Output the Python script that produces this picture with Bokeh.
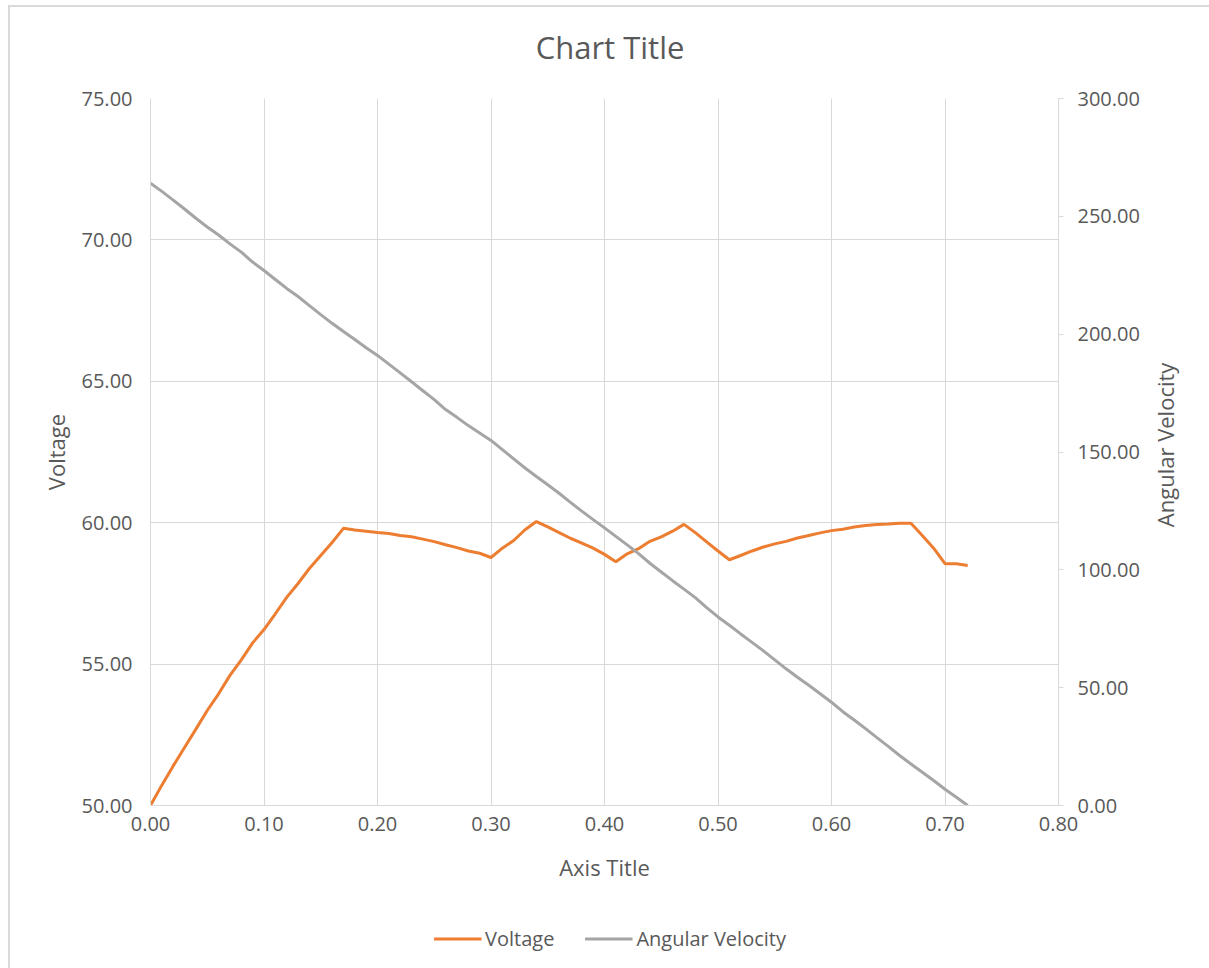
import math
from bokeh.plotting import figure
from bokeh.layouts import column, row
from bokeh.models import (Range1d, LinearAxis, FixedTicker, NumeralTickFormatter,
                          Legend, LegendItem, Label)
from bokeh.embed import file_html
from bokeh.resources import INLINE

# Sample positions (x axis) and the two measured series
x_vals = [round(i * 0.01, 2) for i in range(73)]

voltage = [
    50.00, 50.72, 51.40, 52.05, 52.70, 53.36, 53.95, 54.60, 55.15, 55.75,
    56.22, 56.78, 57.36, 57.85, 58.38, 58.84, 59.30, 59.80, 59.74, 59.70,
    59.65, 59.62, 59.55, 59.50, 59.42, 59.33, 59.22, 59.12, 59.00, 58.92,
    58.77, 59.10, 59.37, 59.75, 60.04, 59.85, 59.65, 59.45, 59.28, 59.10,
    58.88, 58.62, 58.90, 59.08, 59.34, 59.50, 59.70, 59.94, 59.65, 59.32,
    59.00, 58.69, 58.84, 59.00, 59.14, 59.25, 59.34, 59.46, 59.55, 59.64,
    59.72, 59.77, 59.85, 59.90, 59.94, 59.95, 59.98, 59.98, 59.55, 59.10,
    58.55, 58.55, 58.49,
]

angular_velocity = [
    264.0, 260.6, 256.9, 253.1, 249.2, 245.5, 242.1, 238.3, 234.8, 230.6,
    227.0, 223.2, 219.4, 216.0, 212.1, 208.3, 204.6, 201.1, 197.7, 194.2,
    191.0, 187.3, 183.6, 179.8, 176.0, 172.2, 168.0, 164.7, 161.2, 158.1,
    154.9, 151.0, 147.1, 143.2, 139.6, 136.1, 132.5, 128.6, 124.9, 121.3,
    117.8, 114.2, 110.6, 106.9, 102.8, 99.1, 95.4, 91.8, 88.2, 84.0,
    80.0, 76.5, 72.8, 69.2, 65.6, 61.8, 58.0, 54.4, 51.0, 47.4,
    43.8, 39.8, 36.3, 32.6, 28.8, 25.1, 21.2, 17.6, 14.1, 10.6,
    6.9, 3.5, 0.0,
]

x_ticks = [0.0, 0.1, 0.2, 0.3, 0.4, 0.5, 0.6, 0.7, 0.8]
voltage_ticks = [50, 55, 60, 65, 70, 75]
velocity_ticks = [0, 50, 100, 150, 200, 250, 300]

TEXT = "#595959"
GRID = "#d9d9d9"
FONT = "Open Sans"
ORANGE = "#ED7D31"
GREY = "#A5A5A5"
WIDTH = 1199
MAIN_W = 140 + 908 + 95
MAIN_H = 15 + 707 + 103


def blank_strip(width, height, y_range=(0, 1)):
    """A bare figure (no axes, no grid) used for the title, side label and legend."""
    f = figure(width=width, height=height, x_range=Range1d(0, 1), y_range=Range1d(*y_range),
               x_axis_type=None, y_axis_type=None, min_border=0,
               output_backend="svg", toolbar_location=None)
    f.outline_line_color = None
    f.grid.visible = False
    return f


# Title row
header = blank_strip(WIDTH, 76)
header.add_layout(Label(x=0.5, y=0.474, text="Chart Title", text_align="center",
                        text_baseline="middle", text_font=FONT, text_font_size="31px",
                        text_color=TEXT))

# Main chart
p = figure(
    frame_width=908, frame_height=707,
    x_range=Range1d(0, 0.8), y_range=Range1d(50, 75),
    output_backend="svg", toolbar_location=None,
    min_border_left=140, min_border_right=95,
    min_border_top=15, min_border_bottom=103,
)
p.outline_line_color = None
p.extra_y_ranges = {"av": Range1d(0, 300)}

xa = p.xaxis[0]
xa.ticker = FixedTicker(ticks=x_ticks)
xa.formatter = NumeralTickFormatter(format="0.00")
xa.axis_label = "Axis Title"

ya = p.yaxis[0]
ya.ticker = FixedTicker(ticks=voltage_ticks)
ya.formatter = NumeralTickFormatter(format="0.00")
ya.axis_label = "Voltage"

ra = LinearAxis(y_range_name="av",
                ticker=FixedTicker(ticks=velocity_ticks),
                formatter=NumeralTickFormatter(format="0.00"))
p.add_layout(ra, "right")

for ax in (xa, ya, ra):
    ax.axis_line_color = GRID
    ax.major_tick_line_color = None
    ax.minor_tick_line_color = None
    ax.major_label_text_font = FONT
    ax.major_label_text_font_size = "20px"
    ax.major_label_text_color = TEXT
    ax.axis_label_text_font = FONT
    ax.axis_label_text_font_size = "22px"
    ax.axis_label_text_font_style = "normal"
    ax.axis_label_text_color = TEXT

ra.major_tick_line_color = GRID
ra.major_tick_in = 0
ra.major_tick_out = 5
ra.major_label_standoff = 14
ya.major_label_standoff = 12
xa.major_label_standoff = 5
ya.axis_label_standoff = 8
xa.axis_label_standoff = 18

p.xgrid.ticker = FixedTicker(ticks=x_ticks)
p.ygrid.ticker = FixedTicker(ticks=voltage_ticks)
p.xgrid.grid_line_color = GRID
p.ygrid.grid_line_color = GRID

p.line(x_vals, voltage, line_color=ORANGE, line_width=3)
p.line(x_vals, angular_velocity, line_color=GREY, line_width=3, y_range_name="av")

# Secondary axis title, reading bottom-to-top beside the right axis
side = blank_strip(WIDTH - MAIN_W, MAIN_H)
side.add_layout(Label(x=0.197, y=0.510, text="Angular Velocity", angle=math.pi / 2,
                      text_align="center", text_baseline="middle", text_font=FONT,
                      text_font_size="22px", text_color=TEXT))

# Legend row: key entries share the series styles; the strip's view range
# sits below every series value, so only the legend keys are drawn here
footer = blank_strip(WIDTH, 60, y_range=(-2, -1))
key_v = footer.line(x_vals, voltage, line_color=ORANGE, line_width=3)
key_a = footer.line(x_vals, angular_velocity, line_color=GREY, line_width=3)
legend = Legend(
    items=[LegendItem(label="Voltage", renderers=[key_v]),
           LegendItem(label="Angular Velocity", renderers=[key_a])],
    orientation="horizontal", location="center",
    border_line_color=None, background_fill_alpha=0,
    glyph_width=48, label_standoff=4, spacing=30, margin=0, padding=10,
    label_text_font=FONT, label_text_font_size="20px", label_text_color=TEXT,
)
footer.add_layout(legend, "center")

page = column(header, row(p, side, spacing=0), footer, spacing=0)
page.margin = (5, 0, 0, 8)
page.styles = {"border-left": "2px solid #d9d9d9", "border-top": "2px solid #d9d9d9"}

open("out.html", "w").write(file_html(page, INLINE))
